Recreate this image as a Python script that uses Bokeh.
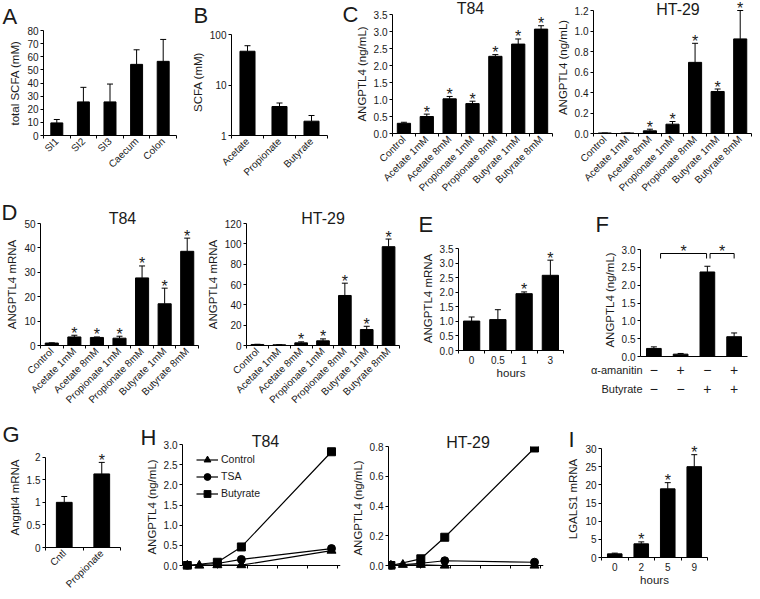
import math
from bokeh.plotting import figure
from bokeh.layouts import row, column
from bokeh.models import (Range1d, FixedTicker, ColumnDataSource, Whisker, TeeHead,
                          Label, Legend, LegendItem, PrintfTickFormatter, Title)
from bokeh.embed import file_html
from bokeh.resources import INLINE

FONT = "Liberation Sans"
TXT = "#1a1a1a"

# ---------------- data ----------------
a_cats = ["SI1", "SI2", "SI3", "Caecum", "Colon"]
a_vals = [9.6, 25.6, 25.6, 54.2, 56.5]
a_errs = [2.6, 11.1, 13.6, 11.1, 16.7]
a_yticks = [0, 10, 20, 30, 40, 50, 60, 70, 80]

b_cats = ["Acetate", "Propionate", "Butyrate"]
b_vals = [46.6, 3.75, 1.92]
b_errs = [13.4, 0.65, 0.57]
b_yticks = [1, 10, 100]

treat_cats = ["Control", "Acetate 1mM", "Acetate 8mM", "Propionate 1mM",
              "Propionate 8mM", "Butyrate 1mM", "Butyrate 8mM"]

c_t84_vals = [0.30, 0.50, 1.02, 0.88, 2.27, 2.63, 3.07]
c_t84_errs = [0.03, 0.07, 0.07, 0.07, 0.05, 0.15, 0.10]
c_t84_sig = [False, True, True, True, True, True, True]
c_t84_yticks = [0, 0.5, 1.0, 1.5, 2.0, 2.5, 3.0, 3.5]

c_ht29_vals = [0.005, 0.005, 0.026, 0.091, 0.694, 0.41, 0.923]
c_ht29_errs = [0.0, 0.0, 0.016, 0.026, 0.186, 0.024, 0.277]
c_ht29_sig = [False, False, True, True, True, True, True]
c_ht29_yticks = [0, 0.2, 0.4, 0.6, 0.8, 1.0, 1.2]

d_t84_vals = [1.0, 3.5, 3.3, 3.0, 27.7, 17.1, 38.6]
d_t84_errs = [0.1, 0.7, 0.2, 0.8, 4.9, 6.4, 5.4]
d_t84_sig = [False, True, True, True, True, True, True]
d_t84_yticks = [0, 10, 20, 30, 40, 50]

d_ht29_vals = [1.0, 0.7, 2.6, 4.6, 49.2, 15.7, 97.2]
d_ht29_errs = [0.2, 0.1, 1.0, 1.9, 12.1, 3.2, 7.5]
d_ht29_sig = [False, False, True, True, True, True, True]
d_ht29_yticks = [0, 20, 40, 60, 80, 100, 120]

e_cats = ["0", "0.5", "1", "3"]
e_vals = [1.01, 1.06, 1.95, 2.58]
e_errs = [0.14, 0.34, 0.06, 0.52]
e_sig = [False, False, True, True]
e_yticks = [0, 0.5, 1.0, 1.5, 2.0, 2.5, 3.0, 3.5]

f_vals = [0.226, 0.066, 2.37, 0.555]
f_errs = [0.044, 0.019, 0.16, 0.105]
f_amanitin = ["\u2212", "+", "\u2212", "+"]
f_butyrate = ["\u2212", "\u2212", "+", "+"]
f_row_names = ["\u03b1-amanitin", "Butyrate"]
f_brackets = [(1.25, 2.97), (3.1, 4.0)]
f_yticks = [0, 0.5, 1.0, 1.5, 2.0, 2.5, 3.0]

g_cats = ["Cntl", "Propionate"]
g_vals = [1.0, 1.63]
g_errs = [0.13, 0.255]
g_sig = [False, True]
g_yticks = [0, 0.5, 1, 1.5, 2]

h_series = ["Control", "TSA", "Butyrate"]
h_hours_ctrl = [0, 2, 5, 9, 24]
h_hours = [0, 5, 9, 24]
h_t84_control = [0, 0, 0.01, 0.01, 0.37]
h_t84_tsa = [0, 0.05, 0.15, 0.42]
h_t84_butyrate = [0, 0.08, 0.46, 2.82]
h_ht29_control = [0, 0.005, 0.005, 0.0, 0.0]
h_ht29_tsa = [0, 0.015, 0.032, 0.022]
h_ht29_butyrate = [0, 0.045, 0.19, 0.79]
h_xticks = [0, 5, 10, 15, 20, 25]
h_t84_yticks = [0, 0.5, 1.0, 1.5, 2.0, 2.5, 3.0]
h_ht29_yticks = [0, 0.2, 0.4, 0.6, 0.8]

i_cats = ["0", "2", "5", "9"]
i_vals = [1.0, 3.76, 18.9, 25.0]
i_errs = [0.2, 0.54, 1.7, 3.3]
i_sig = [False, True, True, True]
i_yticks = [0, 5, 10, 15, 20, 25, 30]

LETTER = 22
TITLE = 16
TICK = "10px"
AXLAB = "11.5px"


# ---------------- helpers ----------------
def no_align(p):
    try:
        p.frame_align = False
    except Exception:
        pass


class Panel:
    """A figure whose axes span page box L..R / T..B; the frame may be extended
    above (FT) or below (FB) the axis extents."""

    def __init__(self, fx, fy, w, h, L, R, T, B, xr, yr, log=False, FT=None, FB=None):
        self.L, self.R, self.T, self.B = L, R, T, B
        self.xr, self.yr, self.log = xr, yr, log
        FT = T if FT is None else FT
        FB = B if FB is None else FB
        self.FT, self.FB = FT, FB
        y0, y1 = yr
        if log:
            l0, l1 = math.log10(y0), math.log10(y1)
            lpu = (l1 - l0) / (B - T)
            yrange = Range1d(10 ** (l0 - (FB - B) * lpu), 10 ** (l1 + (T - FT) * lpu))
        else:
            ppu = (B - T) / (y1 - y0)
            yrange = Range1d(y0 - (FB - B) / ppu, y1 + (T - FT) / ppu)
        p = figure(width=w, height=h, x_range=Range1d(*xr), y_range=yrange,
                   y_axis_type="log" if log else "linear", output_backend="svg",
                   toolbar_location=None, tools="", title=None)
        p.min_border_left = L - fx
        p.min_border_right = fx + w - R
        p.min_border_top = FT - fy
        p.min_border_bottom = fy + h - FB
        no_align(p)
        p.xgrid.visible = False
        p.ygrid.visible = False
        p.outline_line_color = None
        p.background_fill_color = "white"
        p.border_fill_color = "white"
        self.p = p
        if FT != T or FB != B:
            p.yaxis.bounds = (y0, y1)

    def dx(self, X):
        x0, x1 = self.xr
        return x0 + (X - self.L) / (self.R - self.L) * (x1 - x0)

    def dy(self, Y):
        y0, y1 = self.yr
        f = (self.B - Y) / (self.B - self.T)
        if self.log:
            return 10 ** (math.log10(y0) + f * (math.log10(y1) - math.log10(y0)))
        return y0 + f * (y1 - y0)

    def py(self, v):
        y0, y1 = self.yr
        if self.log:
            f = (math.log10(v) - math.log10(y0)) / (math.log10(y1) - math.log10(y0))
        else:
            f = (v - y0) / (y1 - y0)
        return self.B - f * (self.B - self.T)

    def px(self, v):
        x0, x1 = self.xr
        return self.L + (v - x0) / (x1 - x0) * (self.R - self.L)

    def text(self, text, X, Yb, size, align="left"):
        # Yb = wanted baseline; placed with a 'middle' anchor
        Ym = Yb - 0.31 * size
        self.p.add_layout(Label(x=self.dx(X), y=self.dy(Ym), text=text, text_font=FONT,
                                text_font_size=f"{size}px", text_align=align,
                                text_baseline="middle", text_color=TXT))

    def above(self, items):
        """items: (text, size, X_left, baseline_Y) drawn as titles in the above panel."""
        items = sorted(items, key=lambda it: -(it[3] + 0.212 * it[1]))
        cur = self.FT
        for text, size, X, Yb in items:
            hgt = 1.14 * size
            bb = Yb + 0.212 * size
            s = 2 * (cur - bb)
            tsize = 2 + hgt + s
            if tsize < 0.5:
                s += 0.5 - tsize
                tsize = 0.5
            self.p.add_layout(Title(text=text, align="left", vertical_align="bottom",
                                    offset=X - self.L, standoff=s, text_font=FONT,
                                    text_font_size=f"{size}px", text_font_style="normal",
                                    text_color=TXT), "above")
            cur -= tsize


def text_strip(fx, fy, w, h, texts):
    """A plain text strip in page coordinates (used under panel F)."""
    p = figure(width=w, height=h, x_range=Range1d(fx, fx + w), y_range=Range1d(fy + h, fy),
               x_axis_location=None, y_axis_location=None, output_backend="svg",
               toolbar_location=None, tools="", title=None,
               min_border_left=0, min_border_right=0, min_border_top=0, min_border_bottom=0)
    no_align(p)
    p.outline_line_color = None
    p.xgrid.visible = False
    p.ygrid.visible = False
    for text, size, X, Y, align in texts:
        p.add_layout(Label(x=X, y=Y, text=text, text_font=FONT, text_font_size=f"{size}px",
                           text_align=align, text_baseline="middle", text_color=TXT))
    return p


def style(pn, ylabel, xlabel=None, yfmt=None):
    p = pn.p
    for ax in p.axis:
        ax.axis_line_color = "black"
        ax.axis_line_width = 1
        ax.major_tick_line_color = "black"
        ax.major_tick_in = 0
        ax.major_tick_out = 3
        ax.minor_tick_line_color = None
        ax.major_label_text_font = FONT
        ax.major_label_text_font_size = TICK
        ax.major_label_text_color = TXT
        ax.major_label_standoff = 2
        ax.axis_label_text_font = FONT
        ax.axis_label_text_font_size = AXLAB
        ax.axis_label_text_font_style = "normal"
        ax.axis_label_text_color = TXT
        ax.axis_label_standoff = 3
    p.yaxis.axis_label = ylabel
    if yfmt:
        p.yaxis.formatter = PrintfTickFormatter(format=yfmt)
    if xlabel:
        p.xaxis.axis_label = xlabel
        p.xaxis.axis_label_standoff = 0


def cat_xaxis(pn, labels, rotate=False):
    n = len(labels)
    ax = pn.p.xaxis[0]
    ax.ticker = FixedTicker(ticks=list(range(1, n + 1)),
                            minor_ticks=[i + 0.5 for i in range(n + 1)])
    ax.major_label_overrides = {i + 1: lab for i, lab in enumerate(labels)}
    ax.major_tick_out = 0
    ax.minor_tick_in = 0
    ax.minor_tick_out = 3
    ax.minor_tick_line_color = "black"
    if rotate:
        ax.major_label_orientation = math.pi / 4
        ax.major_label_standoff = 1


def yticks(pn, ticks):
    pn.p.yaxis.ticker = FixedTicker(ticks=ticks, minor_ticks=[])


def star(pn, x, y):
    # asterisk (16px) drawn with a 'middle' anchor a few px above the given value
    Ym = pn.py(y) - 2
    if Ym < pn.FT + 6.8:
        Ym = pn.FT + 6.8
    pn.p.add_layout(Label(x=x, y=pn.dy(Ym), text="*", text_align="center",
                          text_baseline="middle", text_font=FONT,
                          text_font_size="16px", text_color=TXT))


def bars(pn, vals, errs, width, sig=None, bottom=0):
    p = pn.p
    xs = list(range(1, len(vals) + 1))
    upper = [v + e for v, e in zip(vals, errs)]
    src = ColumnDataSource(dict(x=xs, top=vals, upper=upper))
    p.vbar(x="x", top="top", bottom=bottom, width=width, source=src,
           fill_color="black", line_color="black", line_width=1)
    p.add_layout(Whisker(source=src, base="x", lower="top", upper="upper",
                         dimension="height", line_color="black", line_width=1,
                         upper_head=TeeHead(size=6, line_color="black", line_width=1),
                         lower_head=None))
    if sig:
        for x, u, s in zip(xs, upper, sig):
            if s:
                star(pn, x, u)


# ---------------- Row 1 (page y 0..200) ----------------
A = Panel(0, 0, 186, 200, 43, 176, 30, 135, (0.5, len(a_cats) + 0.5), (0, 80))
style(A, "total SCFA (mM)")
yticks(A, a_yticks)
cat_xaxis(A, a_cats, rotate=True)
bars(A, a_vals, a_errs, 0.45)
A.above([("A", LETTER, 2, 24)])

Bp = Panel(186, 0, 151, 200, 231, 327, 34, 135, (0.5, len(b_cats) + 0.5), (1, 100),
           log=True, FT=28)
style(Bp, "SCFA (mM)")
Bp.p.yaxis.ticker = FixedTicker(ticks=b_yticks, minor_ticks=[])
Bp.p.yaxis.major_label_overrides = {t: str(t) for t in b_yticks}
cat_xaxis(Bp, b_cats, rotate=True)
bars(Bp, b_vals, b_errs, 0.47, bottom=1)
Bp.above([("B", LETTER, 193, 23)])

CT = Panel(337, 0, 216, 200, 392, 552, 14, 133, (0.5, 7.5), (0, 3.5))
style(CT, "ANGPTL4 (ng/mL)", yfmt="%.1f")
yticks(CT, c_t84_yticks)
cat_xaxis(CT, treat_cats, rotate=True)
bars(CT, c_t84_vals, c_t84_errs, 0.58, c_t84_sig)
CT.above([("C", LETTER, 342, 22), ("T84", TITLE, 470 - 13.8, 13.5)])

CH = Panel(553, 0, 203, 200, 592, 751, 10, 133, (0.5, 7.5), (0, 1.2), FT=1)
style(CH, "ANGPTL4 (ng/mL)", yfmt="%.1f")
yticks(CH, c_ht29_yticks)
cat_xaxis(CH, treat_cats, rotate=True)
bars(CH, c_ht29_vals, c_ht29_errs, 0.58, c_ht29_sig)
CH.text("HT-29", 677, 13.5, TITLE, align="center")

# ---------------- Row 2 (page y 200..414) ----------------
DT = Panel(0, 200, 203, 214, 40, 198, 223, 345, (0.5, 7.5), (0, 50))
style(DT, "ANGPTL4 mRNA")
yticks(DT, d_t84_yticks)
cat_xaxis(DT, treat_cats, rotate=True)
bars(DT, d_t84_vals, d_t84_errs, 0.58, d_t84_sig)
DT.above([("D", LETTER, 1, 218), ("T84", TITLE, 122 - 13.8, 223)])

DH = Panel(203, 200, 207, 214, 243, 399, 223, 345, (0.5, 7.5), (0, 120))
style(DH, "ANGPTL4 mRNA")
yticks(DH, d_ht29_yticks)
cat_xaxis(DH, treat_cats, rotate=True)
bars(DH, d_ht29_vals, d_ht29_errs, 0.58, d_ht29_sig)
DH.above([("HT-29", TITLE, 320 - 22.2, 223)])

E = Panel(410, 200, 180, 214, 458, 563, 248, 350, (0.5, 4.5), (0, 3.5), FT=246)
style(E, "ANGPTL4 mRNA", "hours", yfmt="%.1f")
yticks(E, e_yticks)
cat_xaxis(E, e_cats)
bars(E, e_vals, e_errs, 0.62, e_sig)
E.above([("E", LETTER, 418, 232)])

F = Panel(590, 200, 166, 163, 640, 747, 249, 356, (0.5, 4.5), (0, 3.0), FT=243)
style(F, "ANGPTL4 (ng/mL)", yfmt="%.1f")
yticks(F, f_yticks)
F.p.xaxis.ticker = FixedTicker(ticks=[], minor_ticks=[])
bars(F, f_vals, f_errs, 0.55)
bracket_y, bracket_drop = F.dy(253), F.dy(253) - F.dy(258)
for x0, x1 in f_brackets:
    F.p.line([x0, x0, x1, x1],
             [bracket_y - bracket_drop, bracket_y, bracket_y, bracket_y - bracket_drop],
             line_color="black", line_width=1)
    star(F, (x0 + x1) / 2, bracket_y)
F.above([("F", LETTER, 595, 232)])
f_texts = [(f_row_names[0], 11, 642, 369, "right"),
           (f_row_names[1], 11, 642, 388, "right")]
for i in range(len(f_amanitin)):
    X = F.px(i + 1)
    f_texts.append((f_amanitin[i], 14, X, 369, "center"))
    f_texts.append((f_butyrate[i], 14, X, 388, "center"))
F_foot = text_strip(590, 363, 166, 51, f_texts)

# ---------------- Row 3 (page y 414..596) ----------------
G = Panel(0, 414, 135, 182, 45, 120, 457, 550, (0.5, 2.5), (0, 2), FT=447)
style(G, "Angptl4 mRNA")
yticks(G, g_yticks)
cat_xaxis(G, g_cats, rotate=True)
bars(G, g_vals, g_errs, 0.42, g_sig)
G.above([("G", LETTER, 2, 442)])


def h_panel(pn, ctrl, tsa, but):
    p = pn.p
    rs = []
    for xs, ys, mk, sz in ((h_hours_ctrl, ctrl, "triangle", 9),
                           (h_hours, tsa, "circle", 8),
                           (h_hours, but, "square", 8)):
        l = p.line(xs, ys, line_color="black", line_width=1.2)
        s = p.scatter(xs, ys, marker=mk, size=sz, fill_color="black", line_color="black")
        rs.append([l, s])
    p.xaxis.ticker = FixedTicker(ticks=h_xticks, minor_ticks=[])
    p.xaxis.major_label_standoff = 1
    p.xaxis.fixed_location = 0
    return rs


HT = Panel(135, 414, 213, 182, 182, 340, 444, 565, (-0.8, 25.5), (0, 3.0), FB=569)
style(HT, "ANGPTL4 (ng/mL)", "hours", yfmt="%.1f")
yticks(HT, h_t84_yticks)
rs = h_panel(HT, h_t84_control, h_t84_tsa, h_t84_butyrate)
# legend: rows centred at page y 459 / 476 / 493, line sample starting at page x 196
leg_row_h = 17
leg_bottom = 459 - leg_row_h / 2 + 3 * leg_row_h
leg = Legend(items=[LegendItem(label=n, renderers=r) for n, r in zip(h_series, rs)],
             location=(196 - HT.L, HT.FB - leg_bottom),
             label_text_font=FONT, label_text_font_size="10.5px",
             label_text_color=TXT, glyph_width=22, glyph_height=leg_row_h,
             label_height=leg_row_h, label_standoff=3, spacing=0, padding=0, margin=0,
             border_line_color=None, background_fill_alpha=0)
HT.p.add_layout(leg)
HT.above([("H", LETTER, 140, 443), ("T84", TITLE, 265 - 13.8, 446)])

HH = Panel(348, 414, 212, 182, 387, 543, 446, 565, (-0.4, 25.5), (0, 0.8), FB=569)
style(HH, "ANGPTL4 (ng/mL)", "hours", yfmt="%.1f")
yticks(HH, h_ht29_yticks)
h_panel(HH, h_ht29_control, h_ht29_tsa, h_ht29_butyrate)
HH.above([("HT-29", TITLE, 467 - 22.2, 447)])

I = Panel(560, 414, 196, 182, 601, 707, 448, 557, (0.5, 4.5), (0, 30), FT=440)
style(I, "LGALS1 mRNA", "hours")
yticks(I, i_yticks)
cat_xaxis(I, i_cats)
bars(I, i_vals, i_errs, 0.55, i_sig)
I.above([("I", LETTER, 568, 447)])

layout = column(
    row(A.p, Bp.p, CT.p, CH.p),
    row(DT.p, DH.p, E.p, column(F.p, F_foot)),
    row(G.p, HT.p, HH.p, I.p),
)

with open("out.html", "w") as fh:
    fh.write(file_html(layout, INLINE))
